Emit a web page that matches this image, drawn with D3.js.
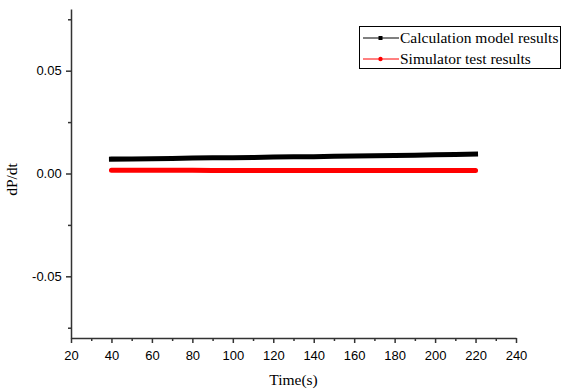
<!DOCTYPE html>
<html>
  <head>
    <script src="https://d3js.org/d3.v7.min.js" charset="utf-8"></script>
    <style type="text/css">
      body { margin: 0; padding: 0; background: #fff; }
      .tick text { font-family: "Liberation Sans", Arial, sans-serif; font-size: 13px; fill: #000; }
      .ttl { font-family: "Liberation Serif", "Times New Roman", serif; font-size: 15.5px; fill: #000; }
    </style>
  </head>
  <body>
    <div id="chart"></div>
    <script type="text/javascript">
      // values
      var times = [40, 50, 60, 70, 80, 90, 100, 110, 120, 130, 140, 150, 160, 170, 180, 190, 200, 210, 220];
      var calcModel = [0.0070, 0.0071, 0.0072, 0.0073, 0.0075, 0.0076, 0.0077, 0.0078, 0.0080, 0.0081,
                       0.0082, 0.0084, 0.0085, 0.0086, 0.0088, 0.0089, 0.0091, 0.0092, 0.0094];
      var simTest = [0.0016, 0.0016, 0.0016, 0.0016, 0.0016, 0.0015, 0.0015, 0.0015, 0.0015, 0.0015,
                     0.0015, 0.0015, 0.0015, 0.0015, 0.0015, 0.0015, 0.0014, 0.0014, 0.0014];
      var seriesNames = ["Calculation model results", "Simulator test results"];
      var seriesColors = ["#000000", "#ff0000"];
      var xTicks = [20, 40, 60, 80, 100, 120, 140, 160, 180, 200, 220, 240];
      var yTicks = [-0.05, 0, 0.05];
      var yTickLabels = ["-0.05", "0.00", "0.05"];

      var W = 562, H = 390;
      var mLeft = 71, mRight = 516, mTop = 9, mBottom = 338;

      var svg = d3.select("#chart").append("svg").attr("width", W).attr("height", H);

      var x = d3.scaleLinear().domain([20, 240]).range([mLeft, mRight]);
      var y = d3.scaleLinear().domain([-0.08, 0.08]).range([mBottom, mTop]);

      // minor ticks
      var xMinor = d3.range(30, 240, 20);
      var yMinor = [-0.075, -0.025, 0.025, 0.075];

      var gx = svg.append("g").attr("transform", "translate(0," + mBottom + ")")
        .call(d3.axisBottom(x).tickValues(xTicks).tickSize(5).tickSizeOuter(0).tickFormat(d3.format("d")));
      gx.selectAll(".tick text").attr("dy", "1.05em");
      svg.append("g").attr("transform", "translate(0," + mBottom + ")")
        .call(d3.axisBottom(x).tickValues(xMinor).tickSize(3).tickSizeOuter(0).tickFormat(""))
        .select(".domain").remove();

      var gy = svg.append("g").attr("transform", "translate(" + mLeft + ",0)")
        .call(d3.axisLeft(y).tickValues(yTicks).tickSize(5).tickSizeOuter(0)
          .tickFormat(function(d, i) { return yTickLabels[i]; }));
      gy.selectAll(".tick text").attr("dx", "-0.1em");
      svg.append("g").attr("transform", "translate(" + mLeft + ",0)")
        .call(d3.axisLeft(y).tickValues(yMinor).tickSize(3).tickSizeOuter(0).tickFormat(""))
        .select(".domain").remove();

      svg.selectAll(".domain, .tick line").attr("stroke", "#333").attr("stroke-width", 1.5);

      // series
      var line = d3.line()
        .x(function(d) { return x(d[0]); })
        .y(function(d) { return y(d[1]); });

      var series = [calcModel, simTest];
      series.forEach(function(vals, i) {
        var pts = times.map(function(t, j) { return [t, vals[j]]; });
        svg.append("path").datum(pts)
          .attr("d", line)
          .attr("fill", "none")
          .attr("stroke", seriesColors[i])
          .attr("stroke-width", 5)
          .attr("stroke-linecap", i == 0 ? "square" : "round");
      });

      // axis titles
      svg.append("text").attr("class", "ttl")
        .attr("x", (mLeft + mRight) / 2).attr("y", 385)
        .attr("text-anchor", "middle").text("Time(s)");
      svg.append("text").attr("class", "ttl")
        .attr("transform", "translate(17," + ((mTop + mBottom) / 2 + 6) + ") rotate(-90)")
        .attr("text-anchor", "middle").text("dP/dt");

      // legend
      var lg = svg.append("g");
      lg.append("rect").attr("x", 359.5).attr("y", 26.5).attr("width", 201).attr("height", 42)
        .attr("fill", "#fff").attr("stroke", "#000").attr("stroke-width", 1);
      seriesNames.forEach(function(name, i) {
        var ly = 38 + i * 21;
        lg.append("line").attr("x1", 363).attr("x2", 399).attr("y1", ly).attr("y2", ly)
          .attr("stroke", seriesColors[i]).attr("stroke-width", 1);
        if (i == 0) {
          lg.append("rect").attr("x", 378.5).attr("y", ly - 2).attr("width", 4).attr("height", 4)
            .attr("fill", seriesColors[i]);
        } else {
          lg.append("circle").attr("cx", 380.5).attr("cy", ly).attr("r", 2.2)
            .attr("fill", seriesColors[i]);
        }
        lg.append("text").attr("class", "ttl").attr("x", 400).attr("y", ly + 5).text(name);
      });
    </script>
  </body>
</html>
